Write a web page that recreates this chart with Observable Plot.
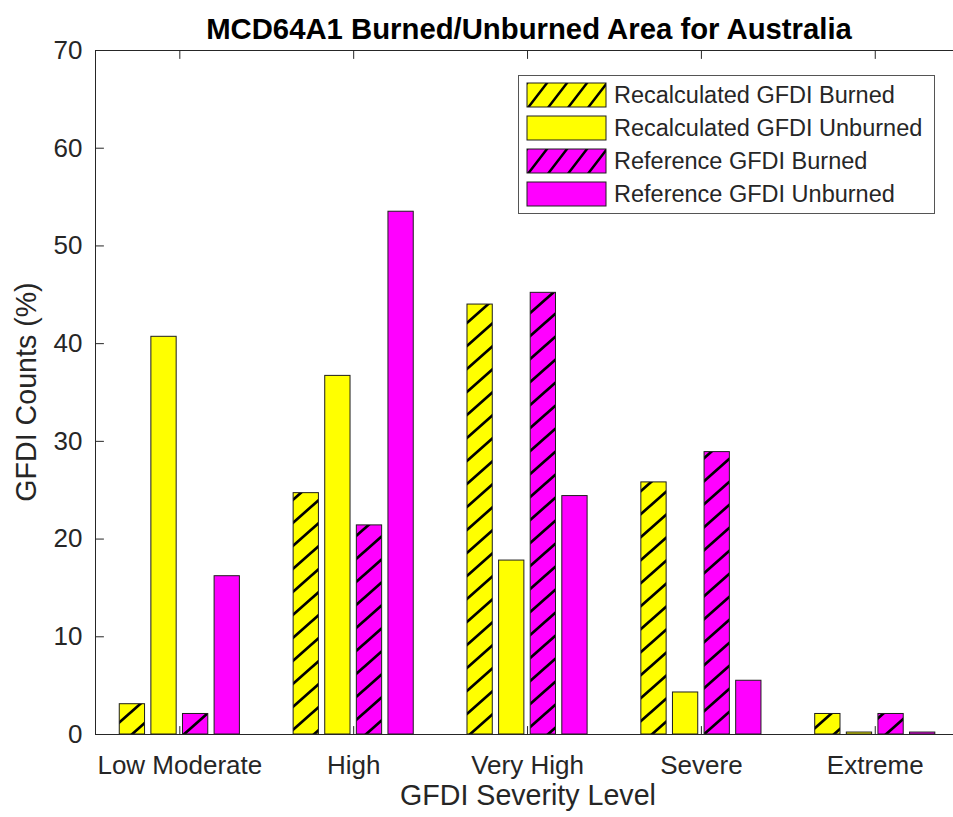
<!DOCTYPE html>
<html><head><meta charset="utf-8">
<script src="https://cdn.jsdelivr.net/npm/d3@7"></script>
<script src="https://cdn.jsdelivr.net/npm/@observablehq/plot@0.6"></script>
<style>
body{margin:0;background:#fff}
#chart{position:relative;width:953px;height:817px}
</style>
</head><body><div id="chart"></div>
<script>
// ---- data ----
const categories = ["Low Moderate", "High", "Very High", "Severe", "Extreme"];
const seriesNames = ["Recalculated GFDI Burned", "Recalculated GFDI Unburned", "Reference GFDI Burned", "Reference GFDI Unburned"];
const recalcBurned   = [3.1, 24.7, 44.0, 25.8, 2.1];
const recalcUnburned = [40.7, 36.7, 17.8, 4.3, 0.2];
const refBurned      = [2.1, 21.4, 45.2, 28.9, 2.1];
const refUnburned    = [16.2, 53.5, 24.4, 5.5, 0.2];
const yTicks = [0, 10, 20, 30, 40, 50, 60, 70];
const titleText = "MCD64A1 Burned/Unburned Area for Australia";
const xLabel = "GFDI Severity Level";
const yLabel = "GFDI Counts (%)";

// ---- styles ----
const seriesFills = ["url(#hatch-yellow)", "#ffff00", "url(#hatch-magenta)", "#ff00ff"];
const legendFills = ["url(#lhatch-yellow)", "#ffff00", "url(#lhatch-magenta)", "#ff00ff"];
const FONT = "'Liberation Sans', Arial, Helvetica, sans-serif";
const INK = "#262626";

const seriesValues = [recalcBurned, recalcUnburned, refBurned, refUnburned];
const rows = [];
categories.forEach((c, i) => seriesValues.forEach((vals, s) =>
  rows.push({category: c, index: i + 1, series: s, value: vals[i]})));

// MATLAB grouped-bar geometry (in category units)
const nS = seriesNames.length;
const groupWidth = Math.min(0.8, nS / (nS + 1.5));
const slot = groupWidth / nS;
const barW = slot * 0.8;
const xc = d => d.index + (d.series - (nS - 1) / 2) * slot;

const catTicks = categories.map((_, i) => i + 1);
const xDomain = [0.515, 5.45];
const yDomain = [0, 70];

// plain line tick shape for Plot.vector
const tickShape = {draw(context, l) { context.moveTo(0, 0); context.lineTo(0, -l); }};

const barMarks = seriesNames.map((_, s) =>
  Plot.rect(rows.filter(d => d.series === s), {
    x1: d => xc(d) - barW / 2,
    x2: d => xc(d) + barW / 2,
    y1: 0,
    y2: "value",
    fill: seriesFills[s],
    stroke: "#1e1e1e",
    strokeWidth: 1
  }));

const chart = Plot.plot({
  width: 953,
  height: 817,
  marginLeft: 95,
  marginRight: 0,
  marginTop: 50,
  marginBottom: 83,
  style: {fontFamily: FONT, color: INK, background: "#fff", overflow: "visible"},
  x: {domain: xDomain},
  y: {domain: yDomain},
  marks: [
    Plot.axisY({ticks: yTicks, tickSize: 0, tickPadding: 13, fontSize: 26, label: null}),
    Plot.axisX({anchor: "bottom", ticks: catTicks, tickSize: 0, tickPadding: 21, fontSize: 26,
      tickFormat: i => categories[i - 1], label: null}),
    // axes box (left, top, bottom; right edge falls outside the picture)
    Plot.ruleX([xDomain[0]], {stroke: INK, strokeWidth: 1}),
    Plot.ruleY([yDomain[1]], {stroke: INK, strokeWidth: 1}),
    // inward-pointing tick marks (MATLAB style)
    Plot.vector(yTicks, {x: xDomain[0], y: d => d, length: 8, rotate: 90, anchor: "start", shape: tickShape, stroke: INK, strokeWidth: 1}),
    Plot.vector(catTicks, {x: d => d, y: yDomain[1], length: 8, rotate: 180, anchor: "start", shape: tickShape, stroke: INK, strokeWidth: 1}),
    Plot.vector(catTicks, {x: d => d, y: yDomain[0], length: 8, rotate: 0, anchor: "start", shape: tickShape, stroke: INK, strokeWidth: 1}),
    ...barMarks,
    Plot.ruleY([yDomain[0]], {stroke: INK, strokeWidth: 1})
  ]
});

document.getElementById("chart").appendChild(chart);

// ---- patterns, titles, legend ----
const svg = d3.select(chart);
const defs = svg.insert("defs", ":first-child");
function hatch(id, color, w, h, sw) {
  const p = defs.append("pattern").attr("id", id).attr("patternUnits", "userSpaceOnUse")
    .attr("width", w).attr("height", h);
  p.append("rect").attr("width", w).attr("height", h).attr("fill", color);
  p.append("path")
    .attr("d", `M0,${h} L${w},0 M${-w/2},${h/2} L${w/2},${-h/2} M${w/2},${h*1.5} L${w*1.5},${h/2}`)
    .attr("stroke", "#000").attr("stroke-width", sw).attr("fill", "none");
}
hatch("hatch-yellow", "#ffff00", 26, 23, 2.7);
hatch("hatch-magenta", "#ff00ff", 26, 23, 2.7);
hatch("lhatch-yellow", "#ffff00", 20, 26, 2.5);
hatch("lhatch-magenta", "#ff00ff", 20, 26, 2.5);

svg.append("text")
  .attr("x", 529).attr("y", 39).attr("text-anchor", "middle")
  .attr("font-family", FONT).attr("font-size", 29.3).attr("font-weight", "bold").attr("fill", "#000")
  .text(titleText);

svg.append("text")
  .attr("x", 528).attr("y", 805).attr("text-anchor", "middle")
  .attr("font-family", FONT).attr("font-size", 28.6).attr("fill", INK)
  .text(xLabel);

svg.append("text")
  .attr("transform", "translate(36,392) rotate(-90)").attr("text-anchor", "middle")
  .attr("font-family", FONT).attr("font-size", 28.6).attr("fill", INK)
  .text(yLabel);

const lg = svg.append("g").attr("font-family", FONT).attr("text-anchor", "start");
lg.append("rect").attr("x", 518.5).attr("y", 75.5).attr("width", 416).attr("height", 138)
  .attr("fill", "#fff").attr("stroke", "#555").attr("stroke-width", 1);
seriesNames.forEach((name, i) => {
  const cy = 95 + i * 33;
  const py = cy - 12;
  const pat = lg.append("g").attr("transform", `translate(527,${py})`);
  pat.append("rect").attr("width", 79).attr("height", 24)
    .attr("fill", legendFills[i]).attr("stroke", "#1e1e1e").attr("stroke-width", 1);
  lg.append("text").attr("x", 614).attr("y", cy).attr("dy", "0.36em").attr("text-anchor", "start")
    .attr("font-size", 23.5).attr("fill", INK).text(name);
});
</script>
</body></html>
